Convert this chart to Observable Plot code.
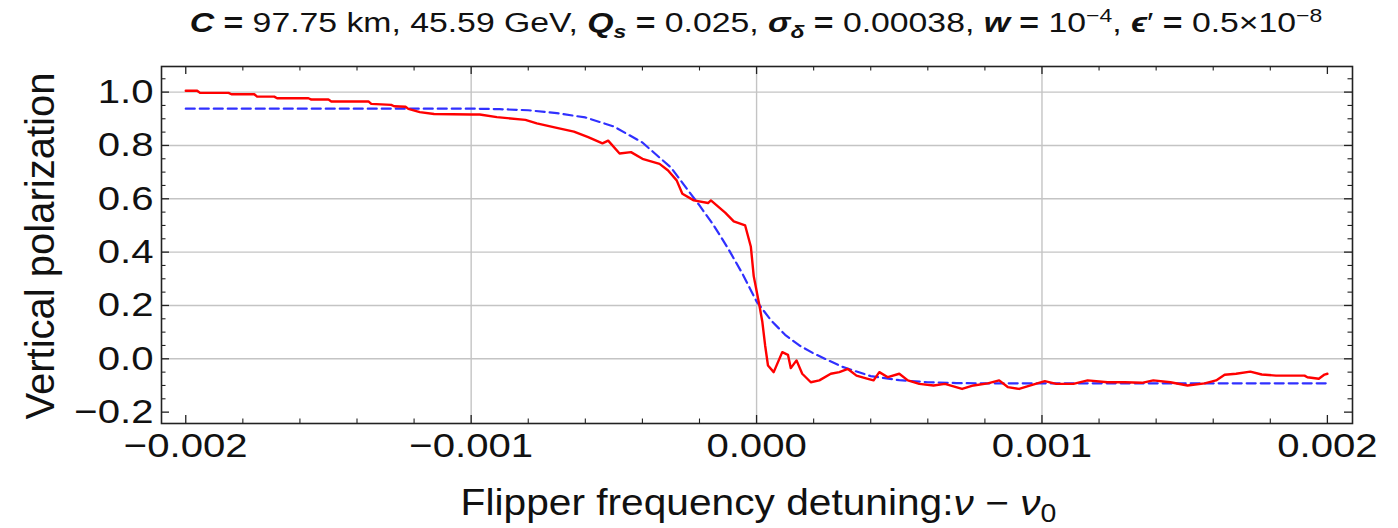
<!DOCTYPE html>
<html>
<head>
<meta charset="utf-8">
<script src="https://cdn.jsdelivr.net/npm/d3@7"></script>
<script src="https://cdn.jsdelivr.net/npm/@observablehq/plot@0.6"></script>
<style>
  html, body { margin: 0; padding: 0; background: #fff; }
  body { width: 1398px; height: 528px; overflow: hidden; font-family: "Liberation Sans", Arial, sans-serif; }
  #title { margin-left: 161px; width: 1191px; height: 50px; line-height: 47px; text-align: center; font-size: 27px; color: #111; white-space: nowrap; }
  #title .in { display: inline-block; transform: scaleX(1.25); }
  #title sub, #title sup { font-size: 0.68em; line-height: 0; position: relative; vertical-align: baseline; }
  #title sup { top: -0.55em; }
  #title sub { top: 0.3em; }
  svg { display: block; }
</style>
</head>
<body>
<div id="title"><span class="in"><b><i>C</i></b> <b>=</b> 97.75 km, 45.59 GeV, <b><i>Q</i></b><sub><b><i>s</i></b></sub> <b>=</b> 0.025, <b><i>σ</i></b><sub><b><i>δ</i></b></sub> <b>=</b> 0.00038, <b><i>w</i></b> <b>=</b> 10<sup>−4</sup>, <b><i>ϵ</i></b>′ <b>=</b> 0.5×10<sup>−8</sup></span></div>
<div id="chart"></div>
<script>
// ---- data ----
const redX = [-0.00200,-0.00196,-0.00195,-0.00185,-0.00184,-0.00176,-0.00175,-0.00169,-0.00168,-0.00157,
  -0.00156,-0.00150,-0.00149,-0.00136,-0.00135,-0.00128,-0.00127,-0.00123,-0.00122,-0.00118,
  -0.00113,-0.00100,-0.00097,-0.00091,-0.00081,-0.00077,-0.00070,-0.00064,-0.00059,-0.00054,
  -0.00052,-0.00048,-0.00044,-0.00040,-0.00034,-0.00031,-0.00028,-0.00026,-0.00022,-0.00017,
  -0.00016,-0.00011,-0.00008,-0.00004,-0.00002,-0.00001,0.00001,0.00002,0.00003,0.00004,
  0.00006,0.00009,0.00011,0.00012,0.00014,0.00016,0.00019,0.00022,0.00026,0.00029,
  0.00032,0.00035,0.00039,0.00041,0.00043,0.00046,0.00050,0.00053,0.00057,0.00062,
  0.00066,0.00072,0.00076,0.00081,0.00085,0.00088,0.00092,0.00096,0.00101,0.00105,
  0.00111,0.00116,0.00123,0.00129,0.00135,0.00139,0.00145,0.00151,0.00157,0.00161,
  0.00164,0.00168,0.00173,0.00177,0.00182,0.00192,0.00193,0.00197,0.00199,0.00200];
const redY = [1.005,1.005,0.997,0.997,0.992,0.992,0.983,0.983,0.977,0.977,
  0.972,0.972,0.965,0.965,0.956,0.952,0.947,0.945,0.937,0.925,
  0.918,0.916,0.916,0.906,0.896,0.883,0.866,0.852,0.831,0.808,
  0.818,0.770,0.775,0.750,0.731,0.706,0.669,0.619,0.594,0.584,
  0.594,0.548,0.515,0.500,0.420,0.310,0.200,0.140,0.050,-0.025,
  -0.050,0.025,0.015,-0.035,-0.006,-0.056,-0.088,-0.081,-0.056,-0.050,
  -0.038,-0.063,-0.075,-0.081,-0.050,-0.069,-0.056,-0.081,-0.094,-0.100,
  -0.094,-0.113,-0.100,-0.092,-0.081,-0.106,-0.113,-0.100,-0.084,-0.094,
  -0.094,-0.081,-0.088,-0.088,-0.090,-0.081,-0.088,-0.100,-0.092,-0.081,
  -0.060,-0.056,-0.048,-0.059,-0.063,-0.063,-0.069,-0.075,-0.059,-0.056];

const blueX = [-0.0020,-0.0019,-0.0018,-0.0017,-0.0016,-0.0015,-0.0014,-0.0013,-0.0012,-0.0011,
  -0.0010,-0.0009,-0.0008,-0.0007,-0.0006,-0.0005,-0.0004,-0.0003,-0.0002,-0.00015,
  -0.0001,-0.00005,0.0000,0.00005,0.0001,0.00015,0.0002,0.0003,0.0004,0.0005,
  0.0006,0.0007,0.0008,0.0009,0.0010,0.0012,0.0014,0.0016,0.0018,0.0020];
const blueY = [0.938,0.938,0.938,0.938,0.938,0.938,0.938,0.938,0.938,0.938,
  0.938,0.936,0.932,0.921,0.905,0.871,0.811,0.717,0.575,0.500,
  0.414,0.320,0.215,0.145,0.090,0.050,0.020,-0.030,-0.065,-0.080,
  -0.088,-0.091,-0.092,-0.092,-0.092,-0.092,-0.092,-0.092,-0.092,-0.092];

const xMajor = [-0.002,-0.001,0,0.001,0.002];
const xMinor = [-0.0018,-0.0016,-0.0014,-0.0012,-0.0008,-0.0006,-0.0004,-0.0002,
  0.0002,0.0004,0.0006,0.0008,0.0012,0.0014,0.0016,0.0018];
const xGrid = [-0.001,0,0.001];
const yMajor = [-0.2,0,0.2,0.4,0.6,0.8,1.0];
const yMinor = [-0.15,-0.1,-0.05,0.05,0.1,0.15,0.25,0.3,0.35,0.45,0.5,0.55,0.65,0.7,0.75,0.85,0.9,0.95,1.05];
const yGrid = [0,0.2,0.4,0.6,0.8,1.0];

// ---- layout ----
const width = 1398, height = 478;
const mL = 161, mR = 46, mT = 16, mB = 105;
const W = width - mL - mR, H = height - mT - mB;
const majorLen = 8, minorLen = 4.5;
const frameColor = "#222";

const red = redX.map((x, i) => ({x, y: redY[i]}));
const blue = blueX.map((x, i) => ({x, y: blueY[i]}));
const fmtX = d => d === 0 ? "0.000" : (d < 0 ? "\u2212" : "") + Math.abs(d).toFixed(3);
const fmtY = d => Math.abs(d) < 1e-9 ? "0.0" : (d < 0 ? "\u2212" : "") + Math.abs(d).toFixed(1);

const svg = Plot.plot({
  width, height,
  marginLeft: mL, marginRight: mR, marginTop: mT, marginBottom: mB,
  style: {fontFamily: '"Liberation Sans", Arial, sans-serif', background: "#fff", color: "#111"},
  x: {domain: [-0.002085, 0.002088]},
  y: {domain: [-0.2426, 1.096]},
  marks: [
    Plot.gridX(xGrid, {stroke: "#c4c4c4", strokeOpacity: 1, strokeWidth: 1.4}),
    Plot.gridY(yGrid, {stroke: "#c4c4c4", strokeOpacity: 1, strokeWidth: 1.4}),
    Plot.line(blue, {x: "x", y: "y", stroke: "#3030ff", strokeWidth: 2.2, strokeDasharray: "9,5"}),
    Plot.line(red, {x: "x", y: "y", stroke: "#ff0000", strokeWidth: 2.4}),
    // inward ticks on all four sides
    Plot.tickY(yMajor, {y: d => d, insetRight: W - majorLen, stroke: frameColor, strokeWidth: 1.3}),
    Plot.tickY(yMajor, {y: d => d, insetLeft: W - majorLen, stroke: frameColor, strokeWidth: 1.3}),
    Plot.tickY(yMinor, {y: d => d, insetRight: W - minorLen, stroke: frameColor, strokeWidth: 1.1}),
    Plot.tickY(yMinor, {y: d => d, insetLeft: W - minorLen, stroke: frameColor, strokeWidth: 1.1}),
    Plot.tickX(xMajor, {x: d => d, insetTop: H - majorLen, stroke: frameColor, strokeWidth: 1.3}),
    Plot.tickX(xMajor, {x: d => d, insetBottom: H - majorLen, stroke: frameColor, strokeWidth: 1.3}),
    Plot.tickX(xMinor, {x: d => d, insetTop: H - minorLen, stroke: frameColor, strokeWidth: 1.1}),
    Plot.tickX(xMinor, {x: d => d, insetBottom: H - minorLen, stroke: frameColor, strokeWidth: 1.1}),
    Plot.frame({stroke: frameColor, strokeWidth: 1.6}),
    Plot.axisX({ticks: xMajor, tickSize: 0, tickPadding: 9, tickFormat: fmtX, fontSize: 34, label: null, fill: "#111"}),
    Plot.axisY({ticks: yMajor, tickSize: 0, tickPadding: 8, tickFormat: fmtY, fontSize: 34, label: null, fill: "#111"})
  ]
});

// widen tick labels horizontally like the reference
svg.querySelectorAll("text").forEach(t => {
  let tr = t.getAttribute("transform") || "";
  const x = t.getAttribute("x");
  if (x != null && !isNaN(+x)) { t.removeAttribute("x"); tr += ` translate(${x},0)`; }
  t.setAttribute("transform", tr + " scale(1.18,1)");
});

const s = d3.select(svg);
// x-axis label
const xl = s.append("text")
  .attr("transform", `translate(${mL + W / 2 + 2},${height - 13}) scale(1.13,1)`)
  .attr("text-anchor", "middle")
  .attr("font-size", 36)
  .attr("fill", "#111");
xl.append("tspan").text("Flipper frequency detuning:");
xl.append("tspan").attr("font-style", "italic").text("\u03bd");
xl.append("tspan").text(" \u2212 ");
xl.append("tspan").attr("font-style", "italic").text("\u03bd");
xl.append("tspan").attr("font-size", "0.7em").attr("dy", "0.28em").text("0");
// y-axis label
s.append("text")
  .attr("transform", `translate(54,${246 - 50}) rotate(-90)`)
  .attr("text-anchor", "middle")
  .attr("font-size", 40)
  .attr("fill", "#111")
  .text("Vertical polarization");

document.getElementById("chart").appendChild(svg);
</script>
</body>
</html>
